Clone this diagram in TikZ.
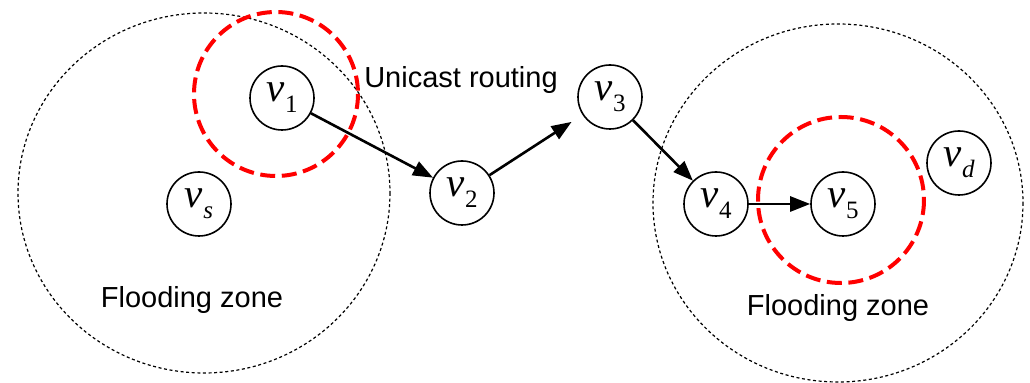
\documentclass[tikz,border=0pt]{standalone}
\usepackage{fontspec}
\setmainfont{Liberation Sans}
\newfontfamily\tnr{Liberation Serif}
\usetikzlibrary{arrows.meta}
% vertex label: italic v with a lowered subscript
\newcommand{\vlab}[1]{{\tnr\fontsize{20.5}{20.5}\selectfont\itshape v}\kern0.2pt\raisebox{-5.5pt}{\tnr\fontsize{12.5}{12.5}\selectfont #1}}
\begin{document}
\begin{tikzpicture}[x=0.5pt,y=-0.5pt,
  zone/.style={draw, line width=0.6pt, dash pattern=on 1.5pt off 1.3pt},
  txrange/.style={draw=red, line width=2pt, dash pattern=on 7.5pt off 3.3pt},
  vertex/.style={circle, draw, line width=0.8pt, minimum size=32pt, inner sep=0pt, fill=white},
  hop/.style={line width=1.3pt, -{Triangle[length=10pt,width=7.5pt]}},
  lbl/.style={font=\fontsize{14.5}{17}\selectfont, inner sep=0pt}]
\useasboundingbox (0,0) rectangle (1030,383);

% flooding zones
\draw[zone] (204,193) ellipse [x radius=186, y radius=180];
\draw[zone] (838,203) ellipse [x radius=185, y radius=179];

% vertices
\node[vertex] (vs) at (199,204) {\vlab{\itshape s}};
\node[vertex] (v1) at (282,98) {\vlab{1}};
\node[vertex] (v2) at (462,193) {\vlab{2}};
\node[vertex] (v3) at (610,97) {\vlab{3}};
\node[vertex] (v4) at (716,204) {\vlab{4}};
\node[vertex] (v5) at (843,204) {\vlab{5}};
\node[vertex] (vd) at (959,163) {\vlab{\itshape d}};

% unicast path
\draw[hop] (v1) -- (v2);
\draw[hop, shorten >=6.5pt] (v2) -- (v3);
\draw[hop] (v3) -- (v4);
\draw[hop] (v4) -- (v5);

% transmission ranges
\draw[txrange] (276,94) circle [radius=82];
\draw[txrange] (841,200) circle [radius=83];

% labels
\node[lbl] (uni) at (461,80) {Unicast routing};
\node[lbl] (fz1) at (192,300) {Flooding zone};
\node[lbl] (fz2) at (838,308) {Flooding zone};
\end{tikzpicture}
\end{document}
